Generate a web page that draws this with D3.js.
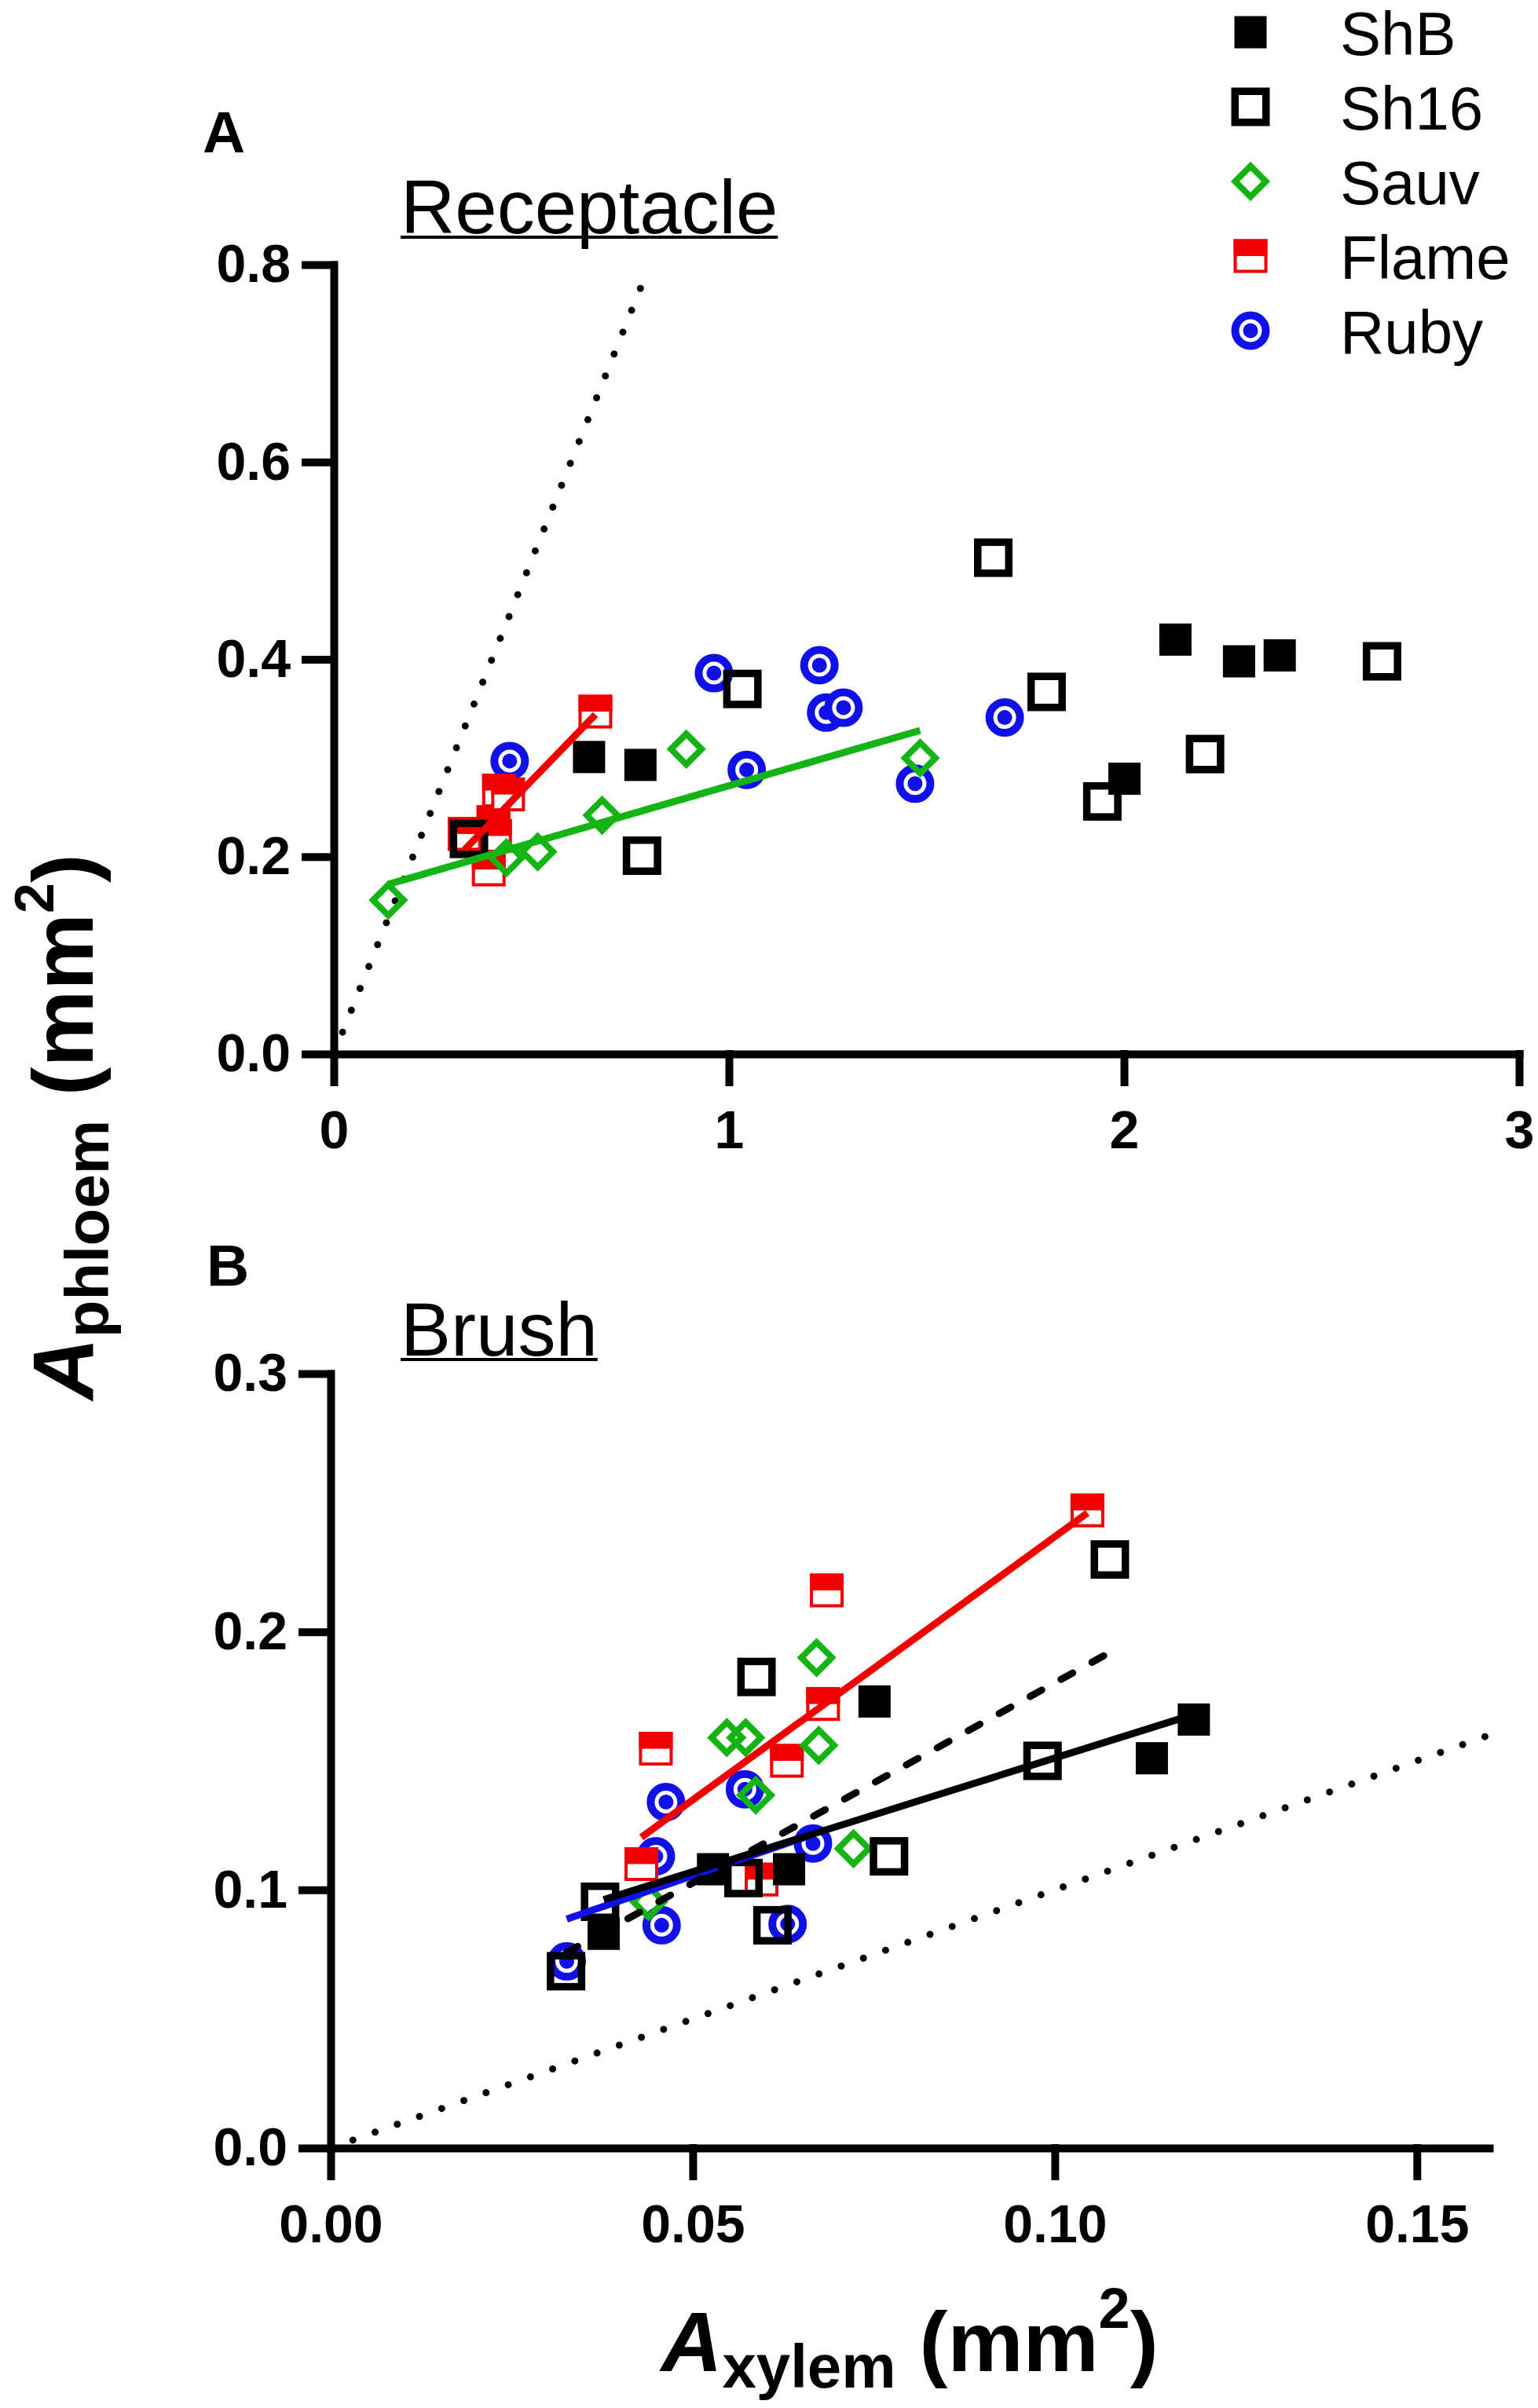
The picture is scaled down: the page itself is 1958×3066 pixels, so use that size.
<!DOCTYPE html>
<html><head><meta charset="utf-8">
<script src="https://cdn.jsdelivr.net/npm/d3@7"></script>
<style>html,body{margin:0;padding:0;background:#fff;} svg{display:block;}</style>
</head><body>
<svg id="chart" width="1958" height="3066"></svg>
<script>
// ---------------- DATA ----------------
const seriesNames = ["ShB", "Sh16", "Sauv", "Flame", "Ruby"];

// Panel A : Receptacle  [Axylem, Aphloem]
const receptacleShB   = [[0.646,0.301],[0.776,0.293],[2.001,0.279],[2.130,0.420],[2.291,0.398],[2.394,0.404]];
const receptacleSh16  = [[0.342,0.218],[0.780,0.201],[1.034,0.370],[1.669,0.503],[1.804,0.367],[1.945,0.256],[2.205,0.304],[2.653,0.398]];
const receptacleSauv  = [[0.138,0.156],[0.437,0.199],[0.516,0.205],[0.679,0.242],[0.892,0.309],[1.484,0.300]];
const receptacleFlame = [[0.331,0.223],[0.392,0.187],[0.404,0.235],[0.408,0.221],[0.418,0.267],[0.441,0.263],[0.662,0.347]];
const receptacleRuby  = [[0.445,0.297],[0.962,0.386],[1.045,0.288],[1.229,0.394],[1.246,0.346],[1.290,0.351],[1.471,0.274],[1.698,0.341]];
const receptacleFitSauv  = [[0.138,0.172],[1.484,0.328]];
const receptacleFitFlame = [[0.331,0.207],[0.662,0.344]];
const receptacleIdentity = [[0,0],[0.79,0.79]];

// Panel B : Brush
const brushShB   = [[0.0377,0.083],[0.0528,0.108],[0.0633,0.108],[0.0751,0.173],[0.1134,0.151],[0.1192,0.166]];
const brushSh16  = [[0.0325,0.0685],[0.0372,0.0954],[0.0570,0.1046],[0.0588,0.1825],[0.0610,0.0863],[0.0771,0.113],[0.0983,0.150],[0.1076,0.228]];
const brushSauv  = [[0.0439,0.0954],[0.0547,0.159],[0.0573,0.159],[0.0587,0.1367],[0.0671,0.190],[0.0674,0.156],[0.0722,0.116]];
const brushFlame = [[0.0429,0.110],[0.0449,0.1547],[0.0595,0.104],[0.0630,0.150],[0.0680,0.172],[0.0685,0.216],[0.1045,0.247]];
const brushRuby  = [[0.0326,0.0723],[0.0449,0.113],[0.0457,0.0863],[0.0463,0.134],[0.0572,0.139],[0.0631,0.0868],[0.0666,0.118]];
const brushFitRuby  = [[0.0326,0.0887],[0.0666,0.1215]];
const brushFitSh16  = [[0.0325,0.0756],[0.1076,0.192]];
const brushFitShB   = [[0.0377,0.0962],[0.1192,0.168]];
const brushFitFlame = [[0.0429,0.1204],[0.1045,0.246]];
const brushIdentity = [[0,0],[0.16,0.16]];

// ticks
const receptacleXTicks = [0, 1, 2, 3];
const receptacleYTicks = [0, 0.2, 0.4, 0.6, 0.8];
const brushXTicks = [0, 0.05, 0.10, 0.15];
const brushYTicks = [0, 0.1, 0.2, 0.3];

// ---------------- STYLE ----------------
const FONT = "'Liberation Sans', Arial, Helvetica, sans-serif";
const COLOR = {ShB:"#000000", Sh16:"#000000", Sauv:"#14b414", Flame:"#f20000", Ruby:"#1010e8"};
const svg = d3.select("#chart");

function drawMarker(g, name, cx, cy) {
  const m = g.append("g").attr("transform", `translate(${cx},${cy})`);
  if (name === "ShB") {
    m.append("rect").attr("x",-20.5).attr("y",-20.5).attr("width",41).attr("height",41).attr("fill",COLOR.ShB);
  } else if (name === "Sh16") {
    m.append("rect").attr("x",-19.75).attr("y",-19.75).attr("width",39.5).attr("height",39.5)
      .attr("fill","none").attr("stroke",COLOR.Sh16).attr("stroke-width",9.5);
  } else if (name === "Sauv") {
    const h = 19.5;
    m.append("path").attr("d",`M0,${-h}L${h},0L0,${h}L${-h},0Z`)
      .attr("fill","none").attr("stroke",COLOR.Sauv).attr("stroke-width",8).attr("stroke-linejoin","miter");
  } else if (name === "Flame") {
    m.append("rect").attr("x",-19.5).attr("y",-19.5).attr("width",39).attr("height",39)
      .attr("fill","#fff").attr("stroke",COLOR.Flame).attr("stroke-width",4);
    m.append("rect").attr("x",-21.5).attr("y",-21.5).attr("width",43).attr("height",21.5).attr("fill",COLOR.Flame);
  } else if (name === "Ruby") {
    m.append("circle").attr("r",19.5).attr("fill","#fff").attr("stroke",COLOR.Ruby).attr("stroke-width",10);
    m.append("circle").attr("r",9.5).attr("fill",COLOR.Ruby);
  }
}

function styleAxis(ax) {
  ax.attr("font-family", FONT).attr("font-size", 68);
  ax.select(".domain").attr("stroke-width", 10).attr("stroke-linecap","square");
  ax.selectAll(".tick line").attr("stroke-width", 10).attr("stroke-linecap","square");
  ax.selectAll(".tick text").attr("font-weight","bold").attr("font-family",FONT).attr("font-size",68);
}

function drawPanel(p) {
  const x = d3.scaleLinear().domain(p.xDomain).range(p.xRange);
  const y = d3.scaleLinear().domain(p.yDomain).range(p.yRange);
  const g = svg.append("g");

  // axes
  const axX = g.append("g").attr("transform", `translate(0,${p.yRange[0]})`)
    .call(d3.axisBottom(x).tickValues(p.xTicks).tickFormat(p.xFmt).tickSize(36).tickSizeOuter(0).tickPadding(36));
  styleAxis(axX);
  const axY = g.append("g").attr("transform", `translate(${p.xRange[0]},0)`)
    .call(d3.axisLeft(y).tickValues(p.yTicks).tickFormat(p.yFmt).tickSize(36).tickSizeOuter(0).tickPadding(19));
  styleAxis(axY);

  const line = d3.line().x(d => x(d[0])).y(d => y(d[1]));

  // identity (dotted)
  g.append("path").attr("d", line(p.identity)).attr("fill","none").attr("stroke","#000")
    .attr("stroke-width",9).attr("stroke-linecap","round").attr("stroke-dasharray","0 30");

  // markers (Ruby at bottom, ShB on top)
  const order = ["Ruby","Flame","Sauv","Sh16","ShB"];
  const mg = g.append("g");
  order.forEach(name => {
    (p.series[name] || []).forEach(d => drawMarker(mg, name, x(d[0]), y(d[1])));
  });

  // regression lines
  p.fits.forEach(f => {
    const path = g.append("path").attr("d", line(f.pts)).attr("fill","none")
      .attr("stroke", COLOR[f.name]).attr("stroke-width", 9);
    if (f.dashed) path.attr("stroke-dasharray","17 28").attr("stroke-linecap","round");
  });

  // title (underlined)
  const t = g.append("text").attr("x", p.titleX).attr("y", p.titleY)
    .attr("font-family", FONT).attr("font-size", 96).attr("fill","#000").text(p.title);
  const w = t.node().getComputedTextLength();
  g.append("line").attr("x1", p.titleX).attr("x2", p.titleX + w)
    .attr("y1", p.titleY + 5).attr("y2", p.titleY + 5).attr("stroke","#000").attr("stroke-width",4);

  // panel letter
  g.append("text").attr("x", p.letterX).attr("y", p.letterY).attr("font-family", FONT)
    .attr("font-weight","bold").attr("font-size", 75).attr("fill","#000").text(p.letter);
}

drawPanel({
  xDomain:[0,3], xRange:[425,1934], yDomain:[0,0.8], yRange:[1342,337],
  xTicks: receptacleXTicks, yTicks: receptacleYTicks, xFmt: d3.format("d"), yFmt: d3.format(".1f"),
  series: {ShB: receptacleShB, Sh16: receptacleSh16, Sauv: receptacleSauv, Flame: receptacleFlame, Ruby: receptacleRuby},
  fits: [{name:"Sauv", pts: receptacleFitSauv}, {name:"Flame", pts: receptacleFitFlame}],
  identity: receptacleIdentity,
  title: "Receptacle", titleX: 510, titleY: 297, letter: "A", letterX: 258, letterY: 194
});

drawPanel({
  xDomain:[0,0.16], xRange:[421,1896], yDomain:[0,0.3], yRange:[2735,1749],
  xTicks: brushXTicks, yTicks: brushYTicks, xFmt: d3.format(".2f"), yFmt: d3.format(".1f"),
  series: {ShB: brushShB, Sh16: brushSh16, Sauv: brushSauv, Flame: brushFlame, Ruby: brushRuby},
  fits: [{name:"Ruby", pts: brushFitRuby}, {name:"Sh16", pts: brushFitSh16, dashed:true},
         {name:"ShB", pts: brushFitShB}, {name:"Flame", pts: brushFitFlame}],
  identity: brushIdentity,
  title: "Brush", titleX: 510, titleY: 1726, letter: "B", letterX: 263, letterY: 1637
});

// legend
const lg = svg.append("g");
seriesNames.forEach((name, i) => {
  const cy = 41 + i * 95;
  drawMarker(lg, name, 1592, cy);
  lg.append("text").attr("x", 1706).attr("y", cy + 29).attr("font-family", FONT)
    .attr("font-size", 78).attr("fill","#000").text(name);
});

// axis titles
const yl = svg.append("text").attr("transform","translate(118,1435) rotate(-90)")
  .attr("text-anchor","middle").attr("font-family",FONT).attr("font-weight","bold").attr("font-size",110).attr("fill","#000");
yl.append("tspan").attr("font-style","italic").text("A");
yl.append("tspan").attr("font-size",78).attr("dy",20).text("phloem");
yl.append("tspan").attr("dy",-20).text(" (mm");
yl.append("tspan").attr("font-size",70).attr("dy",-50).text("2");
yl.append("tspan").attr("dy",50).text(")");

const xl = svg.append("text").attr("x",1158).attr("y",3019)
  .attr("text-anchor","middle").attr("font-family",FONT).attr("font-weight","bold").attr("font-size",108).attr("fill","#000");
xl.append("tspan").attr("font-style","italic").text("A");
xl.append("tspan").attr("font-size",78).attr("dy",21).text("xylem");
xl.append("tspan").attr("dy",-21).text(" (mm");
xl.append("tspan").attr("font-size",72).attr("dy",-55).text("2");
xl.append("tspan").attr("dy",55).text(")");
</script>
</body></html>
